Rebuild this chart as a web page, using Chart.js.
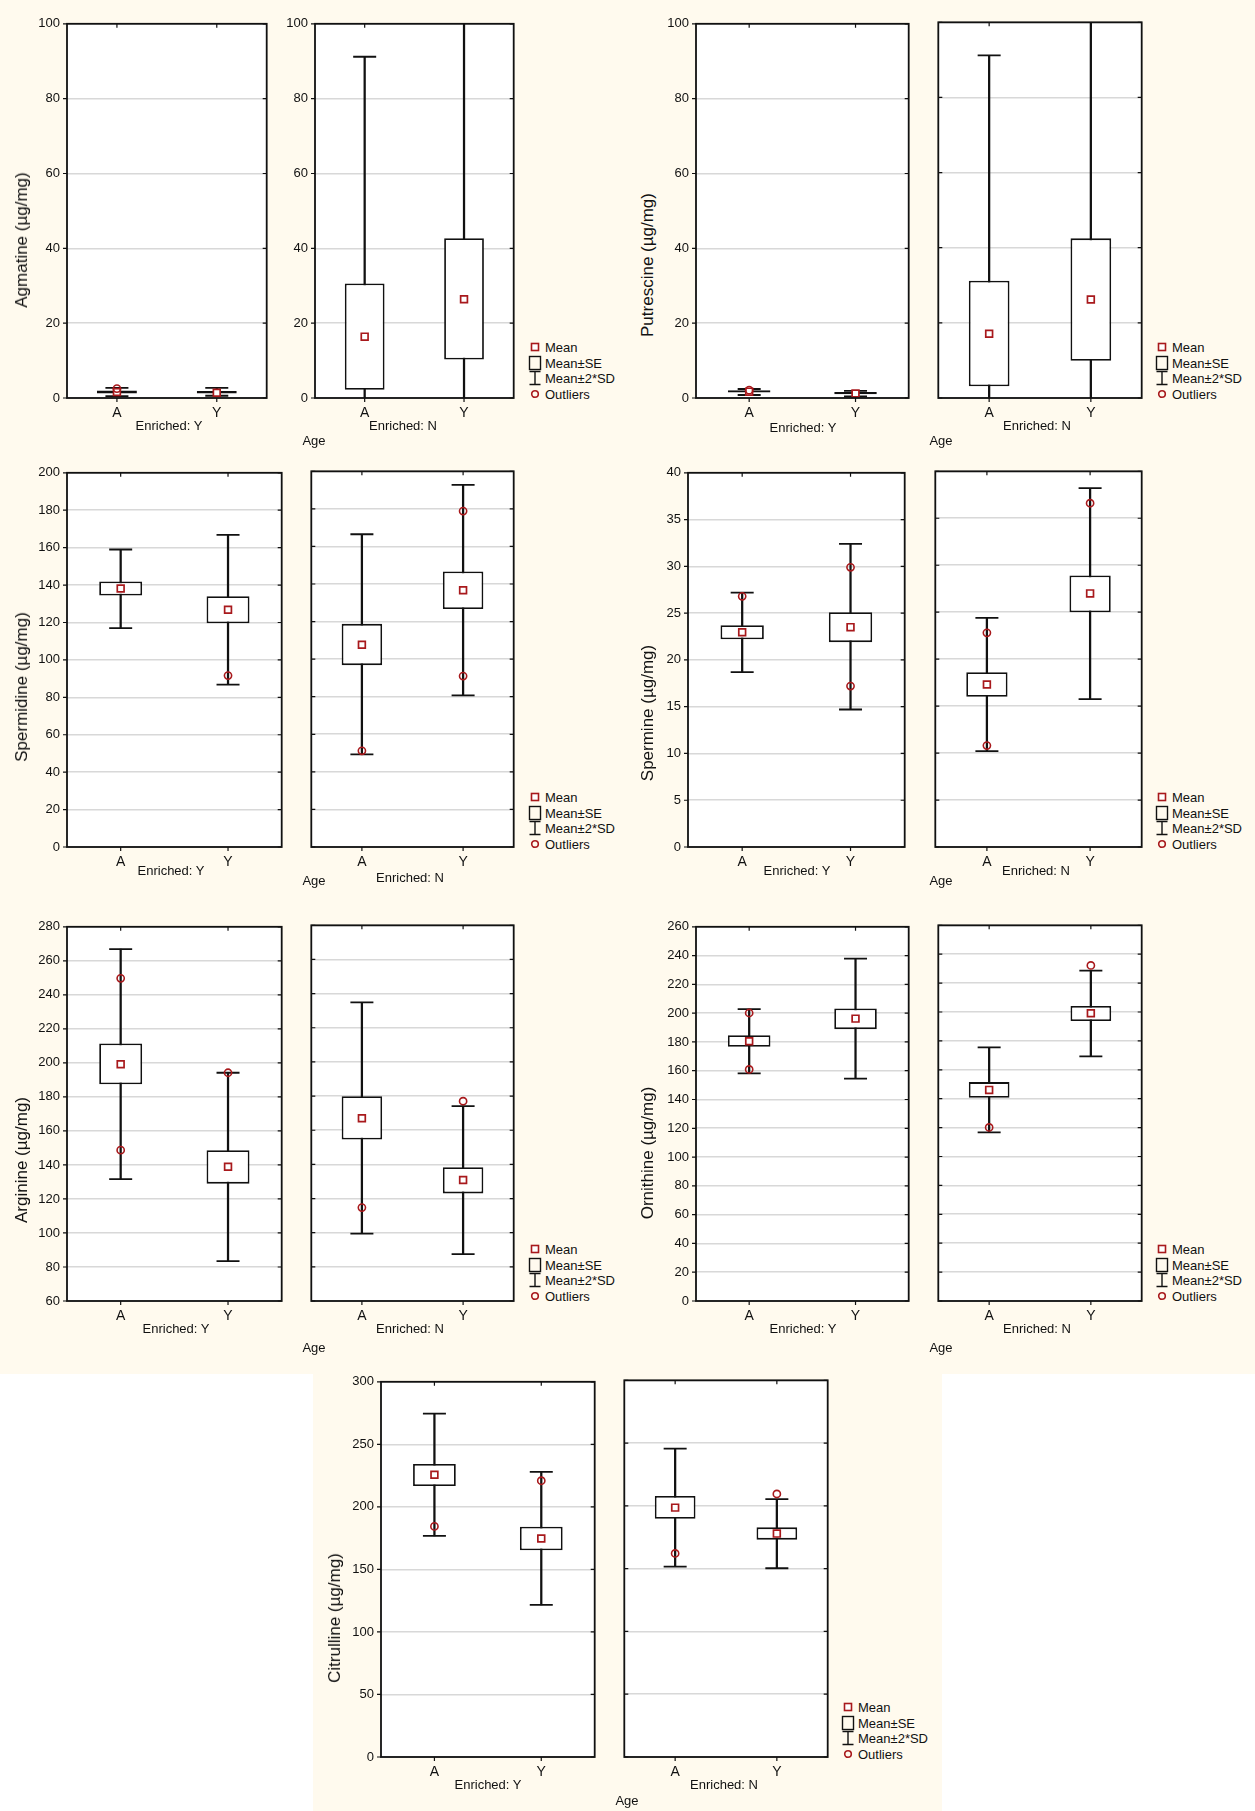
<!DOCTYPE html>
<html>
<head>
<meta charset="utf-8">
<script src="https://cdn.jsdelivr.net/npm/chart.js@4.4.1/dist/chart.umd.min.js"></script>
<style>
  body { margin: 0; background: #fff; }
  #page { position: relative; width: 1255px; height: 1811px; overflow: hidden;
          font-family: "Liberation Sans", Arial, sans-serif; color: #111; }
  .cream { position: absolute; background: #fffaee; }
  canvas { position: absolute; }
  .lbl { position: absolute; white-space: nowrap; transform: translate(-50%, -50%); font-size: 13px; }
  .ytitle { position: absolute; white-space: nowrap; transform: translate(-50%, -50%) rotate(-90deg); font-size: 17px; }
  .legtxt { position: absolute; white-space: nowrap; font-size: 13px; transform: translateY(-50%); }
  .legsym { position: absolute; }
</style>
</head>
<body>
<div id="page">
  <div class="cream" style="left:0;top:0;width:1255px;height:1374px"></div>
  <div class="cream" style="left:313px;top:0;width:629px;height:1811px"></div>
</div>
<script>
// categories
const ages = ["A", "Y"];
const enriched = ["Enriched: Y", "Enriched: N"];
// every series is ordered: Enriched Y (A, Y), Enriched N (A, Y)

const agmatineMean = [1.6, 1.4, 16.4, 26.4];
const agmatineSE = [[1.2, 2.0], [1.2, 1.9], [2.2, 30.6], [10.3, 42.7]];
const agmatineSD = [[0.5, 2.7], [0.6, 2.7], [-58.4, 91.2], [-68, 121]];
const agmatineOut = [[2.5], [], [], []];

const putrescineMean = [1.7, 1.2, 17.1, 26.2];
const putrescineSE = [[1.5, 2.1], [1.0, 1.6], [3.1, 31.2], [9.9, 42.5]];
const putrescineSD = [[0.8, 2.4], [0.4, 1.9], [-57, 91.2], [-70, 122]];
const putrescineOut = [[2.1], [], [], []];

const spermidineMean = [138.2, 126.8, 107.7, 136.7];
const spermidineSE = [[134.4, 141.9], [119.6, 134.0], [96.8, 118.8], [126.7, 146.7]];
const spermidineSD = [[117.0, 159.0], [86.8, 166.8], [49.3, 166.5], [80.7, 192.8]];
const spermidineOut = [[], [91.6], [51.2], [178.8, 91.0]];

const spermineMean = [22.95, 23.5, 17.3, 27.0];
const spermineSE = [[22.2, 23.7], [21.9, 25.1], [16.0, 18.6], [25.0, 28.9]];
const spermineSD = [[18.7, 27.2], [14.7, 32.4], [10.2, 24.4], [15.75, 38.2]];
const spermineOut = [[26.8], [29.9, 17.2], [22.8, 10.8], [36.6]];

const arginineMean = [199.2, 138.9, 167.0, 130.9];
const arginineSE = [[187.4, 211.4], [129.0, 148.7], [154.5, 179.9], [123.0, 138.3]];
const arginineSD = [[131.7, 266.9], [83.5, 194.2], [99.5, 234.9], [87.4, 174.1]];
const arginineOut = [[249.7, 148.7], [194.2], [114.7], [177.0]];

const ornithineMean = [180.5, 196.2, 146.1, 199.1];
const ornithineSE = [[176.6, 184.6], [188.9, 203.3], [140.6, 151.5], [193.7, 204.2]];
const ornithineSD = [[158.1, 202.8], [154.5, 237.9], [116.7, 175.5], [169.3, 228.6]];
const ornithineOut = [[200.1, 160.9], [], [120.1], [232.2]];

const citrullineMean = [225.7, 174.7, 198.6, 177.9];
const citrullineSE = [[216.7, 234.3], [165.3, 184.2], [189.7, 207.8], [173.1, 182.9]];
const citrullineSD = [[176.8, 274.5], [121.6, 228.0], [151.6, 245.6], [150.3, 205.3]];
const citrullineOut = [[184.4], [220.9], [162.1], [209.5]];

const RED = "#a8191c";
const INK = "#111";

const figures = [
  { title: "Agmatine (µg/mg)", mean: agmatineMean, se: agmatineSE, sd: agmatineSD, out: agmatineOut,
    yMin: 0, yMax: 100, step: 20, rightTicks: true,
    panels: [{ x: 67, w: 207 }, { x: 315, w: 206 }], top: 18, h: 380,
    titlePos: [22, 240], enrPos: [[169, 425], [403, 425]], agePos: [314, 440], legPos: [535, 347] },
  { title: "Putrescine (µg/mg)", mean: putrescineMean, se: putrescineSE, sd: putrescineSD, out: putrescineOut,
    yMin: 0, yMax: 100, step: 20, rightTicks: false,
    panels: [{ x: 696, w: 220 }, { x: 927, w: 222 }], top: 18, h: 380,
    titlePos: [648, 265], enrPos: [[803, 427], [1037, 425]], agePos: [941, 440], legPos: [1162, 347] },
  { title: "Spermidine (µg/mg)", mean: spermidineMean, se: spermidineSE, sd: spermidineSD, out: spermidineOut,
    yMin: 0, yMax: 200, step: 20, rightTicks: false,
    panels: [{ x: 67, w: 222 }, { x: 300, w: 221 }], top: 467, h: 380,
    titlePos: [22, 687], enrPos: [[171, 870], [410, 877]], agePos: [314, 880], legPos: [535, 797] },
  { title: "Spermine (µg/mg)", mean: spermineMean, se: spermineSE, sd: spermineSD, out: spermineOut,
    yMin: 0, yMax: 40, step: 5, rightTicks: false,
    panels: [{ x: 688, w: 224 }, { x: 924, w: 225 }], top: 467, h: 380,
    titlePos: [648, 713], enrPos: [[797, 870], [1036, 870]], agePos: [941, 880], legPos: [1162, 797] },
  { title: "Arginine (µg/mg)", mean: arginineMean, se: arginineSE, sd: arginineSD, out: arginineOut,
    yMin: 60, yMax: 280, step: 20, rightTicks: false,
    panels: [{ x: 67, w: 222 }, { x: 300, w: 221 }], top: 921, h: 380,
    titlePos: [22, 1160], enrPos: [[176, 1328], [410, 1328]], agePos: [314, 1347], legPos: [535, 1249] },
  { title: "Ornithine (µg/mg)", mean: ornithineMean, se: ornithineSE, sd: ornithineSD, out: ornithineOut,
    yMin: 0, yMax: 260, step: 20, rightTicks: false,
    panels: [{ x: 696, w: 220 }, { x: 927, w: 222 }], top: 921, h: 380,
    titlePos: [648, 1153], enrPos: [[803, 1328], [1037, 1328]], agePos: [941, 1347], legPos: [1162, 1249] },
  { title: "Citrulline (µg/mg)", mean: citrullineMean, se: citrullineSE, sd: citrullineSD, out: citrullineOut,
    yMin: 0, yMax: 300, step: 50, rightTicks: false,
    panels: [{ x: 381, w: 221 }, { x: 613, w: 222 }], top: 1376, h: 381,
    titlePos: [335, 1618], enrPos: [[488, 1784], [724, 1784]], agePos: [627, 1800], legPos: [848, 1707] }
];

const page = document.getElementById("page");

// white plot area, frame and the small tick marks round it
const panelFrame = {
  id: "panelFrame",
  beforeDraw(chart) {
    const a = chart.chartArea, ctx = chart.ctx;
    ctx.save();
    ctx.fillStyle = "#fff";
    ctx.fillRect(a.left, a.top, a.right - a.left, a.bottom - a.top);
    ctx.restore();
  },
  afterDatasetsDraw(chart, args, opts) {
    const a = chart.chartArea, ctx = chart.ctx;
    const xs = chart.scales.x, ys = chart.scales.y;
    ctx.save();
    ctx.strokeStyle = INK;
    ctx.lineWidth = 1.2;
    ctx.beginPath();
    xs.ticks.forEach((t, i) => {
      const px = xs.getPixelForTick(i);
      ctx.moveTo(px, a.top); ctx.lineTo(px, a.top + 4);
      ctx.moveTo(px, a.bottom); ctx.lineTo(px, a.bottom + 4);
    });
    ys.ticks.forEach((t, i) => {
      const py = ys.getPixelForTick(i);
      if (opts.labels) { ctx.moveTo(a.left - 4, py); ctx.lineTo(a.left, py); }
      else { ctx.moveTo(a.left, py); ctx.lineTo(a.left + 4, py); }
      ctx.moveTo(a.right - 4, py); ctx.lineTo(a.right, py);
    });
    ctx.stroke();
    ctx.lineWidth = 1.8;
    ctx.strokeRect(a.left, a.top, a.right - a.left, a.bottom - a.top);
    ctx.restore();
  }
};

function addText(cls, text, x, y, extra) {
  const d = document.createElement("div");
  d.className = cls;
  d.textContent = text;
  d.style.left = x + "px";
  d.style.top = y + "px";
  if (extra) d.style.cssText += extra;
  page.appendChild(d);
}

function makePanel(fig, gi, showLabels) {
  const p = fig.panels[gi];
  const padL = 2, padT = 9, padR = 6, xH = 22;
  const yW = showLabels ? 36 : 0;
  const W = padL + yW + p.w + padR;
  const H = padT + fig.h + xH;
  const cv = document.createElement("canvas");
  cv.width = W; cv.height = H;
  cv.style.left = (p.x - padL - yW) + "px";
  cv.style.top = (fig.top - padT) + "px";
  page.appendChild(cv);

  const idx = [gi * 2, gi * 2 + 1];
  const caps = [], outs = [];
  idx.forEach((i, k) => {
    caps.push({ x: ages[k], y: fig.sd[i][0] }, { x: ages[k], y: fig.sd[i][1] });
    fig.out[i].forEach(v => outs.push({ x: ages[k], y: v }));
  });

  new Chart(cv, {
    data: {
      labels: ages,
      datasets: [
        { type: "bar", label: "Mean±2*SD", data: idx.map(i => fig.sd[i]), grouped: false,
          barThickness: 1.6, backgroundColor: INK, borderWidth: 0, order: 5 },
        { type: "line", label: "caps", data: caps, showLine: false, pointStyle: "line",
          pointRadius: 11.5, borderColor: INK, pointBorderWidth: 1.8, order: 4 },
        { type: "bar", label: "Mean±SE", data: idx.map(i => fig.se[i]), grouped: false,
          barPercentage: 0.4, categoryPercentage: 1, backgroundColor: "#fff",
          borderColor: INK, borderWidth: 1.8, borderSkipped: false, order: 3 },
        { type: "line", label: "Mean", data: idx.map(i => fig.mean[i]), showLine: false,
          pointStyle: "rect", pointRadius: 4.8, pointBorderWidth: 1.7,
          pointBorderColor: RED, pointBackgroundColor: "#fff", order: 2 },
        { type: "line", label: "Outliers", data: outs, showLine: false,
          pointStyle: "circle", pointRadius: 3.6, pointBorderWidth: 1.6,
          pointBorderColor: RED, pointBackgroundColor: "rgba(255,255,255,0)", order: 1 }
      ]
    },
    options: {
      responsive: false,
      animation: false,
      events: [],
      layout: { padding: { left: padL, top: padT, right: padR, bottom: 0 } },
      plugins: { legend: { display: false }, tooltip: { enabled: false },
                 panelFrame: { labels: showLabels } },
      scales: {
        x: {
          type: "category", offset: true,
          grid: { display: false, drawTicks: false },
          border: { display: false },
          ticks: { color: INK, padding: 7, font: { family: "Liberation Sans", size: 14 } },
          afterFit(s) { s.height = xH; }
        },
        y: {
          type: "linear", min: fig.yMin, max: fig.yMax,
          grid: { color: "#d8d8d8", lineWidth: 1.6, drawTicks: false },
          border: { display: false },
          ticks: { display: showLabels, stepSize: fig.step, color: INK, padding: 7,
                   font: { family: "Liberation Sans", size: 13 } },
          afterFit(s) { s.width = yW; }
        }
      }
    },
    plugins: [panelFrame]
  });
}

function legendSym(kind, x, y) {
  const ns = "http://www.w3.org/2000/svg";
  const svg = document.createElementNS(ns, "svg");
  svg.setAttribute("width", "14"); svg.setAttribute("height", "16");
  svg.setAttribute("class", "legsym");
  svg.style.left = (x - 7) + "px";
  svg.style.top = (y - 8) + "px";
  let html = "";
  if (kind === 0) html = `<rect x="3.5" y="4.5" width="7" height="7" fill="#fff" stroke="${RED}" stroke-width="1.6"/>`;
  if (kind === 1) html = `<rect x="1.5" y="1.5" width="11" height="13" fill="none" stroke="${INK}" stroke-width="1.4"/>`;
  if (kind === 2) html = `<path d="M7 1.5V14.5M1.5 1.5H12.5M1.5 14.5H12.5" fill="none" stroke="${INK}" stroke-width="1.4"/>`;
  if (kind === 3) html = `<circle cx="7" cy="8" r="3.3" fill="none" stroke="${RED}" stroke-width="1.6"/>`;
  svg.innerHTML = html;
  page.appendChild(svg);
}

const legendItems = ["Mean", "Mean±SE", "Mean±2*SD", "Outliers"];

figures.forEach(fig => {
  makePanel(fig, 0, true);
  makePanel(fig, 1, fig.rightTicks);
  addText("ytitle", fig.title, fig.titlePos[0], fig.titlePos[1]);
  enriched.forEach((t, gi) => addText("lbl", t, fig.enrPos[gi][0], fig.enrPos[gi][1]));
  addText("lbl", "Age", fig.agePos[0], fig.agePos[1]);
  legendItems.forEach((t, k) => {
    const y = fig.legPos[1] + k * 15.7;
    legendSym(k, fig.legPos[0], y);
    addText("legtxt", t, fig.legPos[0] + 10, y);
  });
});
</script>
</body>
</html>
